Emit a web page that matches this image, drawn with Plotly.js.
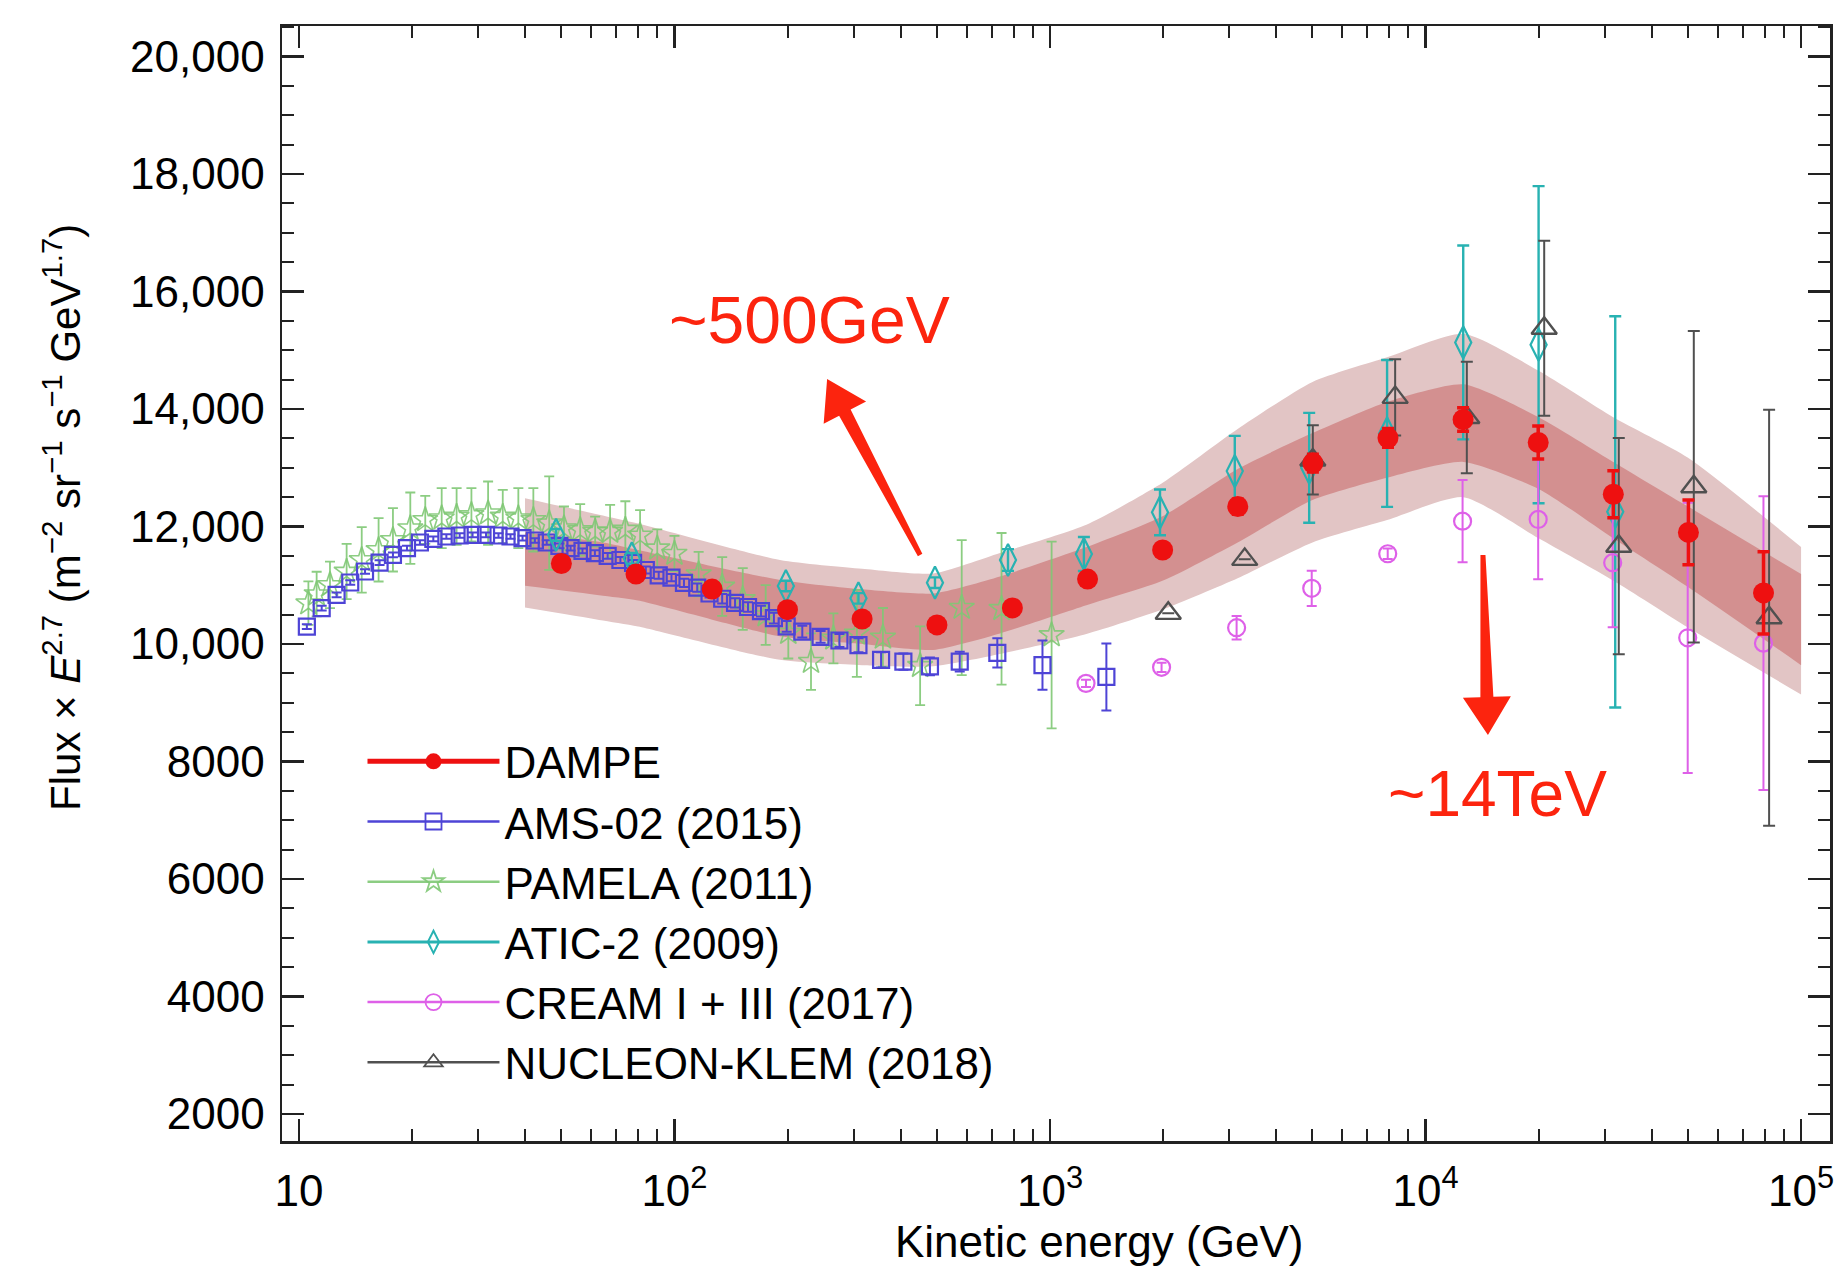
<!DOCTYPE html>
<html><head><meta charset="utf-8">
<script src="https://cdn.plot.ly/plotly-3.0.1.min.js"></script>
<style>html,body{margin:0;padding:0;background:#fff}#chart{width:1845px;height:1283px}</style>
</head><body><div id="chart"></div><script>
const FONT = 'Liberation Sans, Arial, Helvetica, sans-serif';

// ---------- data (GeV, Flux x E^2.7) ----------
const dampeE   = [50,79,126,200,316,500,794,1259,1995,3162,5012,7943,12589,19953,31623,50119,79433];
const dampeF   = [11370,11190,10935,10585,10425,10325,10615,11105,11600,12340,13080,13510,13820,13430,12550,11900,10870];
const dampeErr = [60,60,60,60,70,80,90,100,110,130,150,160,200,280,400,550,700];

const bandE       = [40,63,80,191,316,488,736,1250,2000,3160,5000,7900,12600,20000,31600,50000,100000];
const bandOuterHi = [12480,12200,12050,11430,11280,11200,11550,12030,12750,13660,14460,14880,15280,14650,13860,13170,11650];
const bandInnerHi = [11900,11740,11600,11090,10930,10860,11150,11650,12180,12980,13590,14120,14420,13860,13100,12340,11190];
const bandInnerLo = [10990,10830,10740,10130,10000,9900,10180,10660,11080,11730,12450,12830,13100,12640,11800,10970,9640];
const bandOuterLo = [10620,10410,10300,9730,9640,9620,9830,10170,10590,11120,11730,12110,12500,11800,11080,10280,9140];

const amsE   = [10.5,11.5,12.6,13.7,15.0,16.4,17.8,19.4,21.0,22.8,24.7,26.8,29.0,31.5,34.0,36.6,39.4,42.5,45.7,49.4,52.9,56.9,61.4,66.4,71.8,77.6,83.9,90.8,98.2,106,115,124,134,145,157,170,184,199,219,245,275,309,355,407,479,575,724,955,1413];
const amsF   = [10297,10610,10836,11047,11234,11387,11518,11631,11728,11790,11830,11847,11858,11858,11847,11830,11801,11762,11728,11671,11631,11586,11546,11500,11430,11380,11260,11170,11130,11040,10960,10860,10770,10700,10630,10560,10440,10300,10210,10120,10060,9980,9730,9700,9620,9700,9850,9640,9440];
const amsErr = [40,40,40,40,40,40,40,40,40,40,40,40,40,40,40,40,40,40,40,40,40,40,50,50,50,50,60,60,60,70,70,70,80,80,80,90,90,90,100,100,110,120,130,140,150,170,250,420,570];

const pamE   = [10.6,11.15,12.1,13.4,14.7,16.3,17.8,19.8,21.7,24.0,26.3,28.8,31.9,34.9,38.4,42.1,46.4,50.8,56.1,61.5,67.4,74,81,90,100,116,134,152,175,201,231,265,306,359,451,582,743,1010];
const pamF   = [10695,10850,11007,11234,11432,11603,11773,11972,12114,12142,12170,12199,12227,12170,12142,12114,12057,11972,11943,11915,11915,11950,11850,11630,11540,11190,10980,10766,10494,10193,9700,10097,10182,10113,9630,10620,10600,10153];
const pamErr = [370,380,397,471,556,539,539,607,409,511,482,454,539,454,511,539,795,369,437,255,454,480,430,320,300,380,500,525,510,440,480,425,740,500,670,1150,1290,1590];

const aticE   = [48.4,77,198,309,494,773,1231,1963,3105,4900,7900,12600,20000,32000];
const aticF   = [11858,11458,10987,10777,11044,11430,11532,12241,12943,13000,13585,15133,15095,12250];
const aticErr = [100,90,90,90,90,185,290,390,600,935,1250,1650,2700,3330];

const creamE   = [1247,1982,3140,4977,7930,12550,19950,31500,49900,79400];
const creamF   = [9330,9603,10278,10948,11536,12091,12121,11384,10106,10015];
const creamErr = [60,80,200,300,90,700,1020,1100,2300,2500];

const nucE   = [2065,3300,5010,8300,12880,20700,32700,51800,82200];
const nucF   = [10522,11441,13133,14198,13855,15376,11665,12677,10448];
const nucErr = [0,0,590,650,950,1490,1840,2650,3540];

const seriesNames = ['DAMPE','AMS-02 (2015)','PAMELA (2011)','ATIC-2 (2009)','CREAM I + III (2017)','NUCLEON-KLEM (2018)'];
const yTickVals = [2000,4000,6000,8000,10000,12000,14000,16000,18000,20000];
const yTickText = ['2000','4000','6000','8000','10,000','12,000','14,000','16,000','18,000','20,000'];
const xTickVals = [10,100,1000,10000,100000];
const xTickText = ['10','10<sup>2</sup>','10<sup>3</sup>','10<sup>4</sup>','10<sup>5</sup>'];

// ---------- styles ----------
const C = {
  dampe:'rgb(238,16,16)', ams:'rgb(78,68,214)', pam:'rgba(128,200,116,0.9)',
  atic:'rgb(40,178,178)', cream:'rgb(222,96,232)', nuc:'rgb(80,80,80)',
  outer:'rgb(226,197,197)', inner:'rgb(211,144,144)'
};
const XR = [0.955, 5.077], YR = [1540, 20520];

function errTrace(x, y, e, color, symbol, size, lw, ew, ecap, name) {
  return {
    type:'scatter', mode:'markers', x:x, y:y, name:name, showlegend:false,
    marker:{symbol:symbol, size:size, color:color, line:{color:color, width:lw}},
    error_y:{type:'data', array:e, visible:true, color:color, thickness:ew, width:ecap}
  };
}
function legTrace(name, color, symbol, size, lw, linew) {
  return {
    type:'scatter', mode:'lines+markers', x:[null], y:[null], name:name, showlegend:true,
    line:{color:color, width:linew},
    marker:{symbol:symbol, size:size, color:color, line:{color:color, width:lw}}
  };
}

const traces = [
  {type:'scatter', mode:'lines', x:bandE, y:bandOuterLo, line:{width:0, shape:'spline', smoothing:0.6}, showlegend:false, hoverinfo:'skip'},
  {type:'scatter', mode:'lines', x:bandE, y:bandOuterHi, line:{width:0, shape:'spline', smoothing:0.6}, fill:'tonexty', fillcolor:C.outer, showlegend:false, hoverinfo:'skip'},
  {type:'scatter', mode:'lines', x:bandE, y:bandInnerLo, line:{width:0, shape:'spline', smoothing:0.6}, showlegend:false, hoverinfo:'skip'},
  {type:'scatter', mode:'lines', x:bandE, y:bandInnerHi, line:{width:0, shape:'spline', smoothing:0.6}, fill:'tonexty', fillcolor:C.inner, showlegend:false, hoverinfo:'skip'},
  errTrace(pamE, pamF, pamErr, C.pam, 'star-open', 19, 1.6, 1.8, 5, seriesNames[2]),
  errTrace(amsE, amsF, amsErr, C.ams, 'square-open', 16, 2.2, 2, 5, seriesNames[1]),
  errTrace(aticE, aticF, aticErr, C.atic, 'diamond-tall-open', 23, 2.2, 2.4, 6, seriesNames[3]),
  errTrace(creamE, creamF, creamErr, C.cream, 'circle-open', 17, 2.2, 2, 5, seriesNames[4]),
  errTrace(nucE, nucF, nucErr, C.nuc, 'triangle-up-open', 22, 2.4, 2, 6, seriesNames[5]),
  errTrace(dampeE, dampeF, dampeErr, C.dampe, 'circle', 21, 0, 3.5, 6, seriesNames[0]),
  legTrace(seriesNames[0], C.dampe, 'circle', 22, 0, 5),
  legTrace(seriesNames[1], C.ams, 'square-open', 18, 1.8, 2.5),
  legTrace(seriesNames[2], C.pam, 'star-open', 20, 1.8, 2.5),
  legTrace(seriesNames[3], C.atic, 'diamond-tall-open', 22, 2, 3),
  legTrace(seriesNames[4], C.cream, 'circle-open', 18, 1.8, 2.5),
  legTrace(seriesNames[5], C.nuc, 'triangle-up-open', 18, 1.8, 2.5)
];

// ---------- arrows (annotation geometry) ----------
const W = 1845, H = 1283, ML = 282, MR = 15, MT = 26, MB = 142;
const PW = W - ML - MR, PH = H - MT - MB;
function toPx(E, v) {
  return [(Math.log10(E) - XR[0]) / (XR[1] - XR[0]) * PW, (1 - (v - YR[0]) / (YR[1] - YR[0])) * PH];
}
function arrowPath(tailE, tailV, tipE, tipV) {
  const T = toPx(tailE, tailV), P = toPx(tipE, tipV);
  const dx = P[0] - T[0], dy = P[1] - T[1], len = Math.hypot(dx, dy);
  const d = [dx/len, dy/len], n = [-d[1], d[0]];
  const L = 38, HW = 24, w0 = 2.5, w1 = 6.5;
  const B = [P[0] - d[0]*L, P[1] - d[1]*L];
  const pts = [
    [T[0]+n[0]*w0, T[1]+n[1]*w0], [B[0]+n[0]*w1, B[1]+n[1]*w1], [B[0]+n[0]*HW, B[1]+n[1]*HW], P,
    [B[0]-n[0]*HW, B[1]-n[1]*HW], [B[0]-n[0]*w1, B[1]-n[1]*w1], [T[0]-n[0]*w0, T[1]-n[1]*w0]
  ];
  return 'M' + pts.map(p => (p[0]/PW).toFixed(5) + ',' + (1 - p[1]/PH).toFixed(5)).join(' L') + ' Z';
}
const RED = 'rgb(252,36,14)';
const shapes = [
  {type:'path', xref:'paper', yref:'paper', path:arrowPath(451, 11515, 255, 14511), fillcolor:RED, line:{width:0}},
  {type:'path', xref:'paper', yref:'paper', path:arrowPath(14220, 11515, 14660, 8451), fillcolor:RED, line:{width:0}}
];

const annotations = [
  {xref:'x', yref:'y', x:Math.log10(229), y:15515, text:'~500GeV', showarrow:false, font:{family:FONT, size:66, color:RED}},
  {xref:'x', yref:'y', x:Math.log10(15500), y:7450, text:'~14TeV', showarrow:false, font:{family:FONT, size:64, color:RED}},
  {xref:'paper', yref:'paper', x:0.528, y:-0.09, xanchor:'center', yanchor:'middle', text:'Kinetic energy (GeV)', showarrow:false, font:{family:FONT, size:44, color:'#000'}},
  {xref:'paper', yref:'paper', x:-0.142, y:0.559, xanchor:'center', yanchor:'middle', textangle:-90,
   text:'Flux × <i>E</i><sup>2.7</sup> (m<sup>−2</sup> sr<sup>−1</sup> s<sup>−1</sup> GeV<sup>1.7</sup>)',
   showarrow:false, font:{family:FONT, size:42, color:'#000'}}
];

const xMinor = [];
for (let k = 1; k <= 4; k++) for (let m = 2; m <= 9; m++) xMinor.push(m * Math.pow(10, k));

const layout = {
  width:W, height:H, margin:{l:ML, r:MR, t:MT, b:MB},
  paper_bgcolor:'#fff', plot_bgcolor:'#fff',
  font:{family:FONT, color:'#000'},
  xaxis:{type:'log', range:XR, showgrid:false, zeroline:false, showline:true, linecolor:'#222', linewidth:2.5, mirror:'ticks',
    ticks:'inside', ticklen:22, tickwidth:2.5, tickcolor:'#222', tickmode:'array', tickvals:xTickVals, ticktext:xTickText,
    tickfont:{family:FONT, size:44, color:'#000'}, ticklabelstandoff:10,
    minor:{tickmode:'array', tickvals:xMinor, ticks:'inside', ticklen:12, tickwidth:2, tickcolor:'#222', showgrid:false}},
  yaxis:{range:YR, showgrid:false, zeroline:false, showline:true, linecolor:'#222', linewidth:2.5, mirror:'ticks',
    ticks:'inside', ticklen:22, tickwidth:2.5, tickcolor:'#222', tickmode:'array', tickvals:yTickVals, ticktext:yTickText,
    tickfont:{family:FONT, size:44, color:'#000'}, ticklabelstandoff:6,
    minor:{dtick:500, tick0:0, ticks:'inside', ticklen:12, tickwidth:2, tickcolor:'#222', showgrid:false}},
  legend:{x:0.052, y:0.372, xanchor:'left', yanchor:'top', bgcolor:'rgba(0,0,0,0)', borderwidth:0, traceorder:'normal',
    font:{family:FONT, size:44, color:'#000'}, itemwidth:132, tracegroupgap:0},
  shapes:shapes, annotations:annotations, showlegend:true
};

Plotly.newPlot('chart', traces, layout, {displayModeBar:false, staticPlot:true});
</script></body></html>
